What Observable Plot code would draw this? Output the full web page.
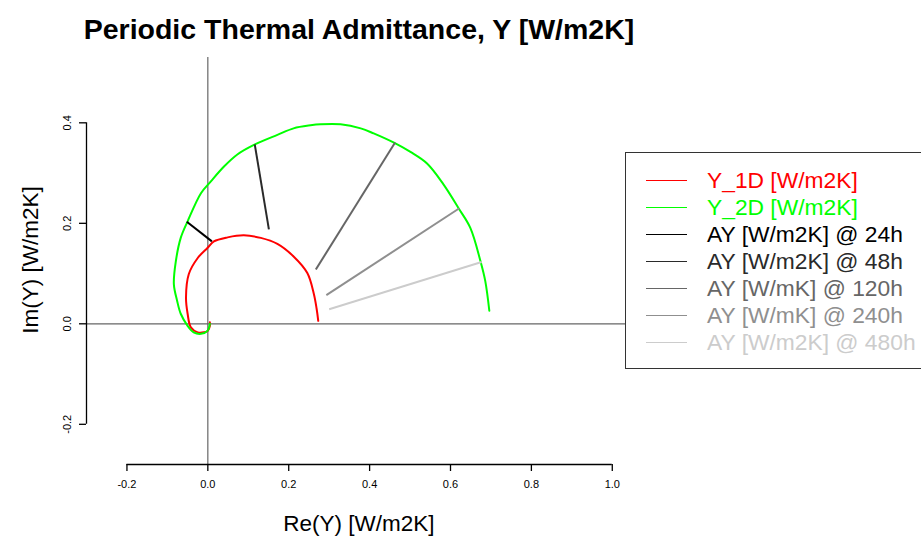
<!DOCTYPE html>
<html>
<head>
<meta charset="utf-8">
<script src="https://cdn.jsdelivr.net/npm/d3@7"></script>
<script src="https://cdn.jsdelivr.net/npm/@observablehq/plot@0.6"></script>
<style>
  html, body { margin: 0; padding: 0; background: #fff; overflow: hidden; }
  #chart { position: relative; width: 921px; height: 537px; overflow: hidden; }
</style>
</head>
<body>
<div id="chart"></div>
<script>
// ---- data ----
const xTicks = [-0.2, 0.0, 0.2, 0.4, 0.6, 0.8, 1.0];
const yTicks = [-0.2, 0.0, 0.2, 0.4];

const y1dRe = [0.273, 0.269, 0.262, 0.246, 0.212, 0.172, 0.131, 0.089, 0.049, 0.015, -0.001, -0.025, -0.047, -0.054, -0.050, -0.042, -0.025, -0.010, 0.000, 0.005, 0.005];
const y1dIm = [0.006, 0.030, 0.060, 0.101, 0.134, 0.159, 0.171, 0.176, 0.172, 0.164, 0.151, 0.131, 0.099, 0.052, 0.020, -0.007, -0.017, -0.017, -0.014, -0.004, 0.003];

const y2dRe = [0.696, 0.686, 0.674, 0.649, 0.620, 0.583, 0.542, 0.501, 0.459, 0.410, 0.378, 0.328, 0.279, 0.254, 0.212, 0.172, 0.114, 0.073, 0.040, 0.007, -0.017, -0.050, -0.067, -0.079, -0.084, -0.076, -0.067, -0.050, -0.035, -0.017, -0.001, 0.005];
const y2dIm = [0.026, 0.085, 0.125, 0.191, 0.230, 0.277, 0.319, 0.342, 0.361, 0.379, 0.389, 0.397, 0.397, 0.395, 0.389, 0.376, 0.356, 0.337, 0.313, 0.283, 0.260, 0.204, 0.171, 0.125, 0.079, 0.046, 0.020, -0.004, -0.017, -0.020, -0.014, 0.000];

const ayLabels = ["AY [W/m2K] @ 24h", "AY [W/m2K] @ 48h", "AY [W/mK] @ 120h", "AY [W/mK] @ 240h", "AY [W/m2K] @ 480h"];
const ayRe1 = [-0.052, 0.116, 0.463, 0.622, 0.677];
const ayIm1 = [0.203, 0.357, 0.361, 0.230, 0.123];
const ayRe2 = [0.010, 0.151, 0.267, 0.293, 0.300];
const ayIm2 = [0.164, 0.188, 0.108, 0.057, 0.029];

// ---- styles ----
const ayColors = ["#000000", "#2a2a2a", "#666666", "#8f8f8f", "#cccccc"];
const xDomain = [-0.3, 1.05];
const yDomain = [-0.28, 0.53];

const y1d = y1dRe.map((re, i) => ({re, im: y1dIm[i]}));
const y2d = y2dRe.map((re, i) => ({re, im: y2dIm[i]}));
const ay = ayLabels.map((label, i) => ({label, x1: ayRe1[i], y1: ayIm1[i], x2: ayRe2[i], y2: ayIm2[i], color: ayColors[i]}));
const fmt = d => d.toFixed(1);

const plot = Plot.plot({
  width: 921,
  height: 537,
  marginLeft: 86,
  marginRight: 289,
  marginTop: 57,
  marginBottom: 73,
  style: {fontFamily: "'Liberation Sans', Arial, sans-serif", fontSize: "11px", background: "#fff", color: "#000"},
  x: {domain: xDomain},
  y: {domain: yDomain},
  marks: [
    Plot.ruleY([0], {stroke: "#666", strokeWidth: 1.2}),
    Plot.ruleX([0], {stroke: "#666", strokeWidth: 1.2}),
    Plot.line(y1d, {x: "re", y: "im", stroke: "#ff0000", strokeWidth: 2, curve: "catmull-rom"}),
    Plot.line(y2d, {x: "re", y: "im", stroke: "#00ff00", strokeWidth: 2, curve: "catmull-rom"}),
    Plot.link(ay, {x1: "x1", y1: "y1", x2: "x2", y2: "y2", stroke: "color", strokeWidth: 2}),
    // axes
    Plot.ruleY([yDomain[0]], {x1: xTicks[0], x2: xTicks[xTicks.length - 1], stroke: "#000", strokeWidth: 1.3}),
    Plot.axisX({ticks: xTicks, tickSize: 7, tickPadding: 9, tickFormat: fmt, label: null, fontSize: 11, strokeWidth: 1.3}),
    Plot.ruleX([xDomain[0]], {y1: yTicks[0], y2: yTicks[yTicks.length - 1], stroke: "#000", strokeWidth: 1.3}),
    Plot.axisY({ticks: yTicks, tickSize: 7, tickFormat: () => "", label: null, strokeWidth: 1.3}),
    Plot.text(yTicks, {y: d => d, frameAnchor: "left", dx: -19, rotate: -90, text: fmt, textAnchor: "middle", lineAnchor: "middle", fontSize: 11})
  ]
});
document.getElementById("chart").appendChild(plot);

// ---- titles & legend ----
const svg = d3.select(plot);
const font = "'Liberation Sans', Arial, sans-serif";
svg.append("text").attr("x", 359).attr("y", 39).attr("text-anchor", "middle")
  .attr("font-family", font).attr("font-weight", "bold").attr("font-size", 28.5).attr("fill", "#000")
  .text("Periodic Thermal Admittance, Y [W/m2K]");
svg.append("text").attr("x", 359).attr("y", 531).attr("text-anchor", "middle")
  .attr("font-family", font).attr("font-size", 22.5).attr("fill", "#000")
  .text("Re(Y) [W/m2K]");
svg.append("text").attr("transform", "translate(38,260) rotate(-90)").attr("text-anchor", "middle")
  .attr("font-family", font).attr("font-size", 22.5).attr("fill", "#000")
  .text("Im(Y) [W/m2K]");

const legendItems = [{label: "Y_1D [W/m2K]", color: "#ff0000", text: "#ff0000"}, {label: "Y_2D [W/m2K]", color: "#00ff00", text: "#00ff00"}]
  .concat(ay.map(d => ({label: d.label, color: d.color, text: d.color})));
const lg = svg.append("g");
lg.append("rect").attr("x", 625.5).attr("y", 152.5).attr("width", 400).attr("height", 216)
  .attr("fill", "#fff").attr("stroke", "#333").attr("stroke-width", 1);
legendItems.forEach((d, i) => {
  const cy = 180 + i * 27;
  lg.append("line").attr("x1", 646).attr("x2", 687).attr("y1", cy + 0.5).attr("y2", cy + 0.5)
    .attr("stroke", d.color).attr("stroke-width", 1);
  lg.append("text").attr("x", 707).attr("y", cy + 7.5).attr("text-anchor", "start")
    .attr("font-family", font).attr("font-size", 22.8)
    .attr("fill", d.text).text(d.label);
});
</script>
</body>
</html>
